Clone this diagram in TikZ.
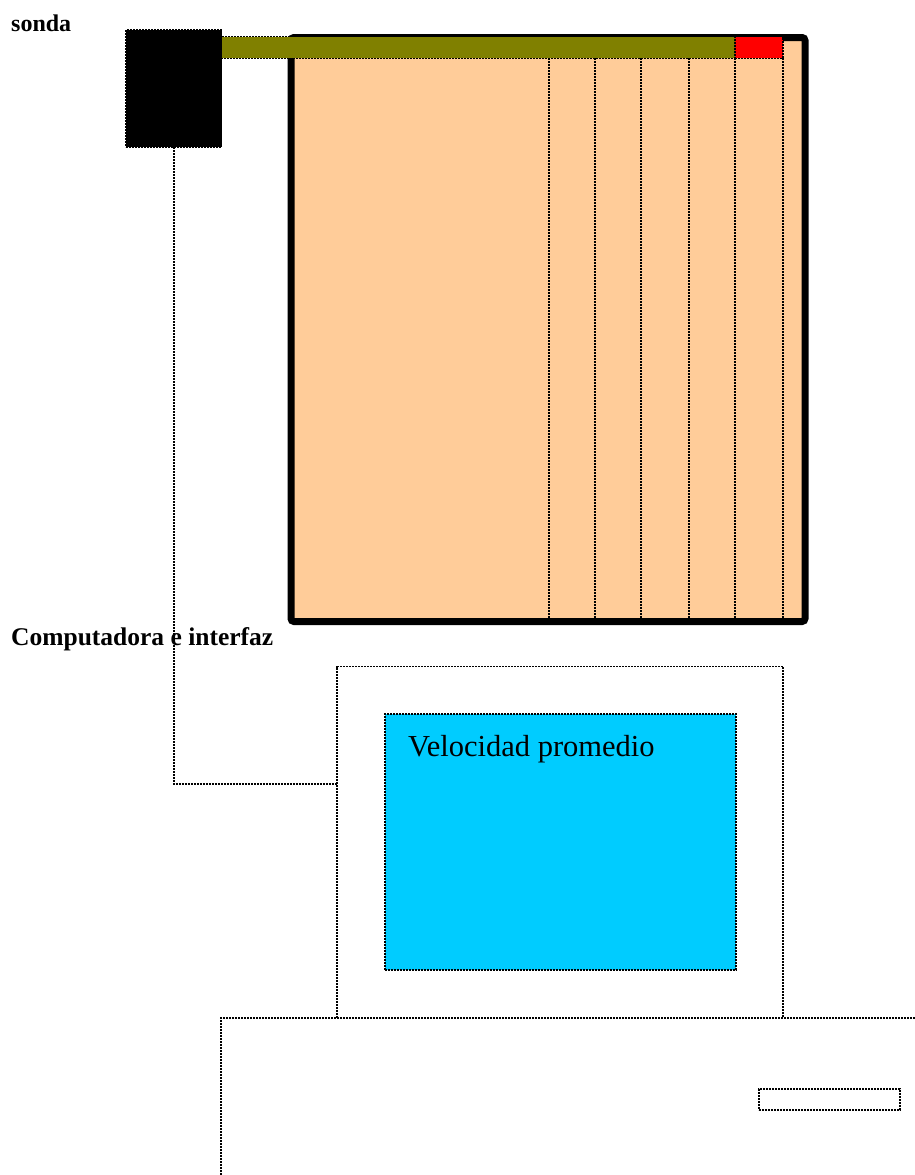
\documentclass[tikz,border=0pt]{standalone}
\usepackage{fontspec}
\setmainfont{Liberation Serif}
\usepackage{tikz}

\definecolor{peach}{HTML}{FFCC99}
\definecolor{rodcolor}{HTML}{808000}
\definecolor{screencolor}{HTML}{00CCFF}

\tikzset{
	outline/.style={draw, line width=1.5pt, dash pattern=on 2pt off 1pt},
	block/.style={outline, rectangle, inner sep=0pt, outer sep=0pt, anchor=north west},
	label text/.style={anchor=base west, inner sep=0pt},
}

\begin{document}
	\begin{tikzpicture}[x=1pt, y=-1pt]
		\useasboundingbox (0,0) rectangle (915,1175);
		\node[draw, line width=7pt, rounded corners=3pt, fill=peach, inner sep=0pt, outer sep=0pt, minimum width=514pt, minimum height=584pt, anchor=north west] (tank) at (291,37.5) {};
		\foreach[count=\i] \x in {549,595,641,689,735,783} {
			\draw[outline] (\x,58) -- (\x,618);
		}
		\node[block, fill=rodcolor, minimum width=514pt, minimum height=21.6pt] (rod) at (221,36.7) {};
		\node[block, fill=red, minimum width=48pt, minimum height=21.6pt] (tip) at (735,36.7) {};
		\node[block, fill=black, minimum width=95.5pt, minimum height=117.5pt] (probe) at (126,29.5) {};
		\node[block, minimum width=446pt, minimum height=351.5pt] (monitor) at (337,666.5) {};
		\node[block, fill=screencolor, minimum width=351pt, minimum height=256pt] (screen) at (385,714) {};
		\node[block, minimum width=141pt, minimum height=21pt] (slot) at (759,1089) {};
		\draw[outline] (221,1175) |- (915,1018);
		\coordinate (plug) at (monitor.west |- 0,784);
		\draw[outline] (probe.south) |- (plug);
		\node[label text, font=\fontsize{24}{28}\selectfont\bfseries] (sonda) at (11,31) {sonda};
		\node[label text, font=\fontsize{25.5}{30}\selectfont\bfseries] (pc) at (11,645) {Computadora e interfaz};
		\node[label text, font=\fontsize{30.5}{34}\selectfont] (reading) at (408,756) {Velocidad promedio};
	\end{tikzpicture}
\end{document}
